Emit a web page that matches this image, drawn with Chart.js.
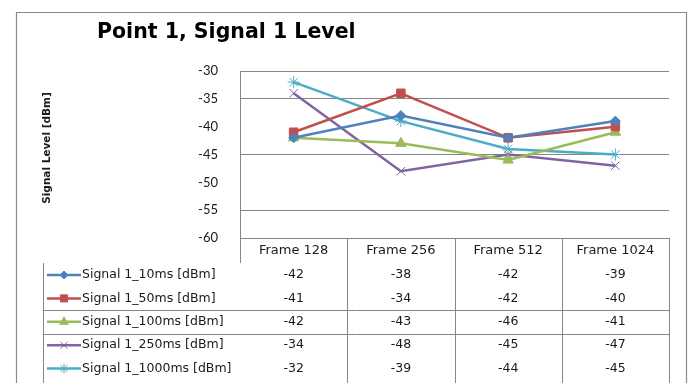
<!DOCTYPE html>
<html>
<head>
<meta charset="utf-8">
<script src="https://cdn.jsdelivr.net/npm/chart.js@4.4.1/dist/chart.umd.min.js"></script>
<style>
  html, body { margin: 0; padding: 0; background: #ffffff; }
  #wrap { width: 691px; height: 383px; position: relative; }
</style>
</head>
<body>
<div id="wrap"><canvas id="c" width="691" height="383"></canvas></div>
<script>
// Frames along the x axis
const categories = ['Frame 128', 'Frame 256', 'Frame 512', 'Frame 1024'];

// Signal level per averaging window [dBm]
const signal10ms   = [-42, -38, -42, -39];
const signal50ms   = [-41, -34, -42, -40];
const signal100ms  = [-42, -43, -46, -41];
const signal250ms  = [-34, -48, -45, -47];
const signal1000ms = [-32, -39, -44, -45];

const seriesNames = [
  'Signal 1_10ms [dBm]',
  'Signal 1_50ms [dBm]',
  'Signal 1_100ms [dBm]',
  'Signal 1_250ms [dBm]',
  'Signal 1_1000ms [dBm]'
];

// Value axis range
const yMin = -60;
const yMax = -30;
const yStep = 5;

const FONT = '"DejaVu Sans", "Open Sans", sans-serif';
const TICK_FONT = 'Lato, "Liberation Sans", sans-serif';
const GRID = '#868686';
const TEXT = '#1a1a1a';

const styles = [
  { color: '#4F81BD', point: 'rectRot',  radius: 5, pbw: 1 },
  { color: '#C0504D', point: 'rect',     radius: 6, pbw: 1 },
  { color: '#9BBB59', point: 'triangle', radius: 6, pbw: 1 },
  { color: '#8064A2', point: 'crossRot', radius: 6, pbw: 1 },
  { color: '#4BACC6', point: 'star',     radius: 6, pbw: 1 }
];

const seriesValues = [signal10ms, signal50ms, signal100ms, signal250ms, signal1000ms];

const datasets = seriesValues.map((vals, i) => ({
  label: seriesNames[i],
  data: vals,
  borderColor: styles[i].color,
  backgroundColor: styles[i].color,
  borderWidth: 2.5,
  pointStyle: styles[i].point,
  pointRadius: styles[i].radius,
  pointBorderWidth: styles[i].pbw,
  pointBackgroundColor: styles[i].color,
  pointBorderColor: styles[i].color,
  tension: 0
}));

function drawMarker(ctx, style, x, y) {
  const opts = { pointStyle: style.point, radius: style.radius, borderWidth: style.pbw, rotation: 0 };
  ctx.save();
  ctx.fillStyle = style.color;
  ctx.strokeStyle = style.color;
  ctx.lineWidth = style.pbw;
  if (Chart.helpers && Chart.helpers.drawPoint) {
    Chart.helpers.drawPoint(ctx, opts, x, y);
  }
  ctx.restore();
}

// Frame, titles and data table below the plot
const tablePlugin = {
  id: 'frameAndTable',
  afterDraw(chart) {
    const ctx = chart.ctx;
    const area = chart.chartArea;
    const xs = chart.scales.x;

    ctx.save();
    // outer chart frame
    ctx.strokeStyle = '#8a8a8a';
    ctx.lineWidth = 1.2;
    ctx.beginPath();
    ctx.moveTo(16.5, 383);
    ctx.lineTo(16.5, 12.5);
    ctx.lineTo(686.5, 12.5);
    ctx.lineTo(686.5, 383);
    ctx.stroke();

    // chart title
    ctx.fillStyle = '#000000';
    ctx.font = 'bold 20.5px ' + FONT;
    ctx.textAlign = 'left';
    ctx.textBaseline = 'alphabetic';
    ctx.fillText('Point 1, Signal 1 Level', 97, 38);

    // value axis title
    ctx.save();
    ctx.translate(47, 148);
    ctx.rotate(-Math.PI / 2);
    ctx.font = 'bold 10.5px ' + FONT;
    ctx.fillStyle = TEXT;
    ctx.textAlign = 'center';
    ctx.textBaseline = 'middle';
    ctx.fillText('Signal Level [dBm]', 0, 0);
    ctx.restore();

    // table grid lines
    const rowH = 23.4;
    const headerBottom = area.bottom + 25;
    const firstRow = headerBottom + 12;
    const keyLeft = 43.5;
    const L = Math.round(area.left) + 0.5;
    const R = Math.round(area.right) + 0.5;
    const colW = (area.right - area.left) / categories.length;
    ctx.strokeStyle = GRID;
    ctx.lineWidth = 1;
    ctx.beginPath();
    // y axis continued through the header cell
    ctx.moveTo(L, area.bottom);
    ctx.lineTo(L, headerBottom);
    // legend key column edge
    ctx.moveTo(keyLeft, headerBottom);
    ctx.lineTo(keyLeft, 383);
    // column separators
    for (let i = 1; i <= categories.length; i++) {
      const x = Math.round(area.left + colW * i) + 0.5;
      ctx.moveTo(x, area.bottom);
      ctx.lineTo(x, 383);
    }
    // row separators
    [2, 3].forEach(r => {
      const y = Math.round(firstRow + rowH * (r - 0.5)) + 0.5;
      ctx.moveTo(keyLeft, y);
      ctx.lineTo(R, y);
    });
    ctx.stroke();

    // rows: key, name, values
    ctx.font = '12.5px ' + FONT;
    ctx.textBaseline = 'middle';
    seriesValues.forEach((vals, r) => {
      const y = firstRow + rowH * r;
      const st = styles[r];
      ctx.strokeStyle = st.color;
      ctx.lineWidth = 2.5;
      ctx.beginPath();
      ctx.moveTo(47, y);
      ctx.lineTo(81, y);
      ctx.stroke();
      drawMarker(ctx, Object.assign({}, st, { radius: st.radius - 1 }), 64, y);

      ctx.fillStyle = TEXT;
      ctx.textAlign = 'left';
      ctx.fillText(seriesNames[r], 82, y);
      ctx.textAlign = 'center';
      vals.forEach((v, c) => {
        ctx.fillText(String(v), xs.getPixelForValue(c), y);
      });
    });
    ctx.restore();
  }
};

new Chart(document.getElementById('c'), {
  type: 'line',
  data: { labels: categories, datasets },
  plugins: [tablePlugin],
  options: {
    responsive: false,
    animation: false,
    devicePixelRatio: 1,
    layout: { padding: { top: 71, left: 40, right: 22, bottom: 0 } },
    plugins: {
      legend: { display: false },
      title: { display: false },
      tooltip: { enabled: false }
    },
    scales: {
      x: {
        offset: true,
        grid: { display: false, drawTicks: false },
        border: { display: false },
        ticks: { color: TEXT, font: { family: FONT, size: 13 }, padding: 5, maxRotation: 0 },
        afterFit(scale) { scale.height = 145; }
      },
      y: {
        min: yMin,
        max: yMax,
        ticks: { stepSize: yStep, color: TEXT, font: { family: TICK_FONT, size: 13 }, padding: 22 },
        grid: {
          drawTicks: false,
          color: c => (c.tick && (c.tick.value === -40 || c.tick.value === -50)) ? 'rgba(0,0,0,0)' : GRID,
          lineWidth: 1
        },
        border: { display: true, color: GRID, width: 1 },
        afterFit(scale) { scale.width = 200; }
      }
    }
  }
});
</script>
</body>
</html>
